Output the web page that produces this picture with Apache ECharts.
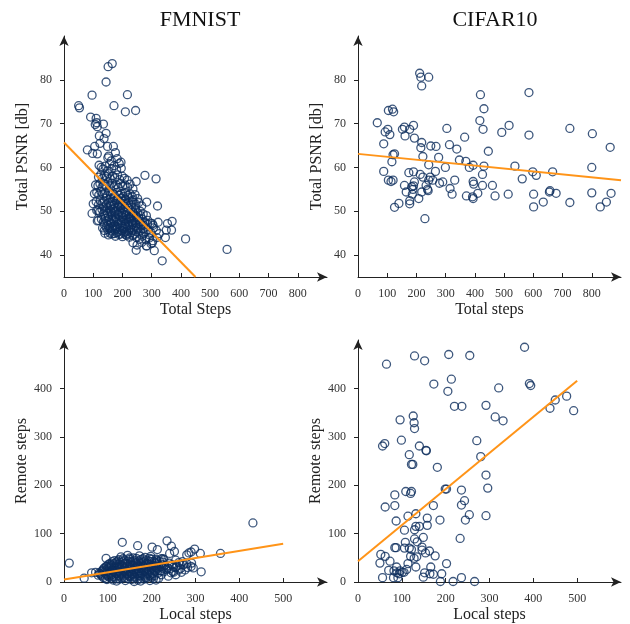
<!DOCTYPE html>
<html>
<head>
<meta charset="utf-8">
<script src="https://cdn.jsdelivr.net/npm/echarts@6/dist/echarts.min.js"></script>
<style>
  html, body { margin: 0; padding: 0; background: #fff; }
  #chart { width: 630px; height: 624px; }
</style>
</head>
<body>
<div id="chart"></div>
<script>
// panel titles and axis names
const titles = ['FMNIST', 'CIFAR10']
const xNames = ['Total Steps', 'Total steps', 'Local steps', 'Local steps']
const yNames = ['Total PSNR [db]', 'Total PSNR [db]', 'Remote steps', 'Remote steps']

// tick labels
const totalStepTicks = [0, 100, 200, 300, 400, 500, 600, 700, 800]
const psnrTicks = [40, 50, 60, 70, 80]
const localStepTicks = [0, 100, 200, 300, 400, 500]
const remoteStepTicks = [0, 100, 200, 300, 400]

// FMNIST: total steps vs total PSNR
const fmnistPsnr = [
  [50, 74.1], [53, 73.6], [96, 76.5], [144, 79.5], [151, 83.0], [165, 83.7], [217, 76.6], [171, 74.1],
  [210, 72.7], [245, 73.0], [91, 71.5], [110, 71.2], [112, 70.2], [107, 69.8], [114, 69.3], [135, 69.9],
  [144, 67.8], [121, 67.2], [80, 64.0], [105, 64.8], [98, 63.2], [114, 63.1], [123, 65.5], [137, 66.6],
  [149, 64.8], [169, 64.8], [153, 62.6], [176, 63.4], [277, 58.2], [315, 57.4], [247, 56.8], [283, 52.1],
  [320, 51.2], [96, 49.5], [117, 50.1], [114, 47.8], [416, 43.7], [558, 41.3], [247, 41.1], [309, 41.0],
  [336, 38.7], [370, 47.7], [368, 45.7], [350, 45.7], [354, 47.2], [347, 44.0], [322, 47.5], [302, 47.2],
  [283, 42.1], [302, 42.8],
  [150, 62.2], [162, 61.5], [182, 62.0], [195, 61.2],
  [120, 60.5], [127, 60.0], [133, 59.6], [141, 60.3], [148, 59.2], [156, 60.8], [163, 59.7], [172, 60.4],
  [180, 59.5], [189, 60.9], [196, 59.8],
  [118, 57.8], [126, 58.4], [131, 57.5], [139, 58.2], [146, 57.9], [152, 58.6], [158, 57.4], [166, 58.1],
  [174, 57.6], [183, 58.3], [191, 57.2], [199, 58.0], [207, 57.5], [216, 57.1],
  [108, 56.0], [116, 55.8], [123, 56.3], [130, 55.5], [137, 56.2], [144, 55.7], [150, 56.5], [157, 55.9],
  [164, 56.4], [171, 55.6], [178, 56.1], [186, 55.4], [193, 56.3], [201, 55.8], [209, 56.0], [218, 55.5],
  [226, 56.2], [236, 55.1],
  [104, 54.0], [112, 54.3], [119, 53.7], [126, 54.5], [133, 53.9], [140, 54.2], [147, 53.6], [154, 54.4],
  [160, 53.8], [167, 54.1], [174, 53.5], [181, 54.3], [188, 53.7], [195, 54.0], [203, 53.4], [210, 54.2],
  [218, 53.6], [226, 54.0], [234, 53.3], [243, 53.8], [252, 52.9],
  [145, 53.0], [158, 52.8], [170, 53.1], [183, 52.7], [196, 53.0], [209, 52.8], [222, 53.1], [235, 52.6],
  [100, 51.7], [110, 52.2], [118, 51.5], [124, 52.4], [131, 51.8], [138, 52.3], [145, 51.6], [152, 52.0],
  [158, 51.4], [165, 52.2], [172, 51.7], [179, 52.4], [186, 51.5], [193, 52.1], [200, 51.8], [207, 52.3],
  [214, 51.6], [221, 52.0], [229, 51.4], [237, 52.1], [246, 51.6], [256, 52.0], [266, 51.2],
  [135, 51.0], [148, 50.8], [160, 51.1], [172, 50.7], [184, 51.0], [196, 50.8], [208, 51.1], [220, 50.7],
  [232, 51.0], [245, 50.8],
  [112, 50.2], [122, 49.8], [130, 50.4], [136, 49.6], [143, 50.1], [149, 49.5], [155, 50.3], [161, 49.8],
  [167, 50.5], [173, 49.7], [179, 50.2], [185, 49.4], [191, 50.0], [197, 49.6], [203, 50.4], [209, 49.8],
  [215, 50.2], [222, 49.5], [229, 50.1], [236, 49.7], [244, 50.3], [252, 49.6], [261, 50.0], [271, 49.4],
  [282, 49.0],
  [140, 49.0], [152, 48.8], [164, 49.1], [176, 48.7], [188, 49.0], [200, 48.8], [212, 49.1], [224, 48.7],
  [236, 49.0], [248, 48.8], [262, 49.0],
  [118, 47.9], [128, 48.2], [135, 47.6], [141, 48.4], [147, 47.8], [153, 48.1], [159, 47.5], [165, 48.3],
  [171, 47.7], [177, 48.2], [183, 47.6], [189, 48.0], [195, 47.4], [201, 48.3], [207, 47.8], [213, 48.1],
  [219, 47.5], [225, 48.2], [231, 47.7], [238, 48.0], [245, 47.4], [252, 48.1], [260, 47.6], [268, 48.2],
  [277, 47.5], [287, 47.9], [296, 47.3], [305, 46.8],
  [138, 47.0], [150, 46.8], [162, 47.1], [174, 46.7], [186, 47.0], [198, 46.8], [210, 47.1], [222, 46.7],
  [234, 47.0], [246, 46.8], [258, 47.1], [272, 46.8], [286, 47.0],
  [132, 46.2], [138, 45.6], [144, 46.4], [150, 45.8], [156, 46.1], [162, 45.5], [168, 46.3], [174, 45.7],
  [180, 46.0], [186, 45.4], [192, 46.2], [198, 45.6], [204, 46.1], [210, 45.3], [216, 46.0], [222, 45.5],
  [228, 46.2], [234, 45.7], [240, 46.0], [247, 45.4], [254, 46.1], [262, 45.6], [270, 46.0], [278, 45.3],
  [287, 45.8], [296, 45.2], [306, 46.2], [316, 45.6], [326, 44.9],
  [158, 45.0], [170, 44.9], [182, 45.1], [194, 44.8], [206, 45.0], [218, 44.9], [230, 45.1], [242, 44.8],
  [256, 45.0], [272, 44.9], [290, 44.7],
  [140, 45.0], [152, 44.6], [164, 44.8], [176, 44.3], [188, 44.7], [200, 44.2], [212, 44.6], [224, 44.1],
  [236, 44.5], [248, 44.0], [258, 43.6], [268, 44.3], [280, 43.5], [292, 43.9], [304, 43.3], [318, 44.0],
  [236, 42.8], [250, 42.3], [266, 42.9], [282, 42.1], [298, 42.6],
  [175, 50.0], [190, 51.3], [205, 49.2], [220, 48.4], [235, 47.4], [180, 46.5], [195, 47.8], [210, 46.5],
  [225, 47.0], [240, 49.4], [165, 46.0], [250, 46.3], [185, 52.7], [170, 48.0], [200, 45.5], [215, 44.5],
  [230, 48.5], [160, 50.0], [255, 48.5], [265, 47.0]
]

// CIFAR10: total steps vs total PSNR
const cifarPsnr = [
  [66, 70.2], [88, 65.4], [88, 59.1], [93, 68.1], [102, 68.7], [104, 73.0], [109, 67.5], [104, 57.1],
  [113, 56.8], [118, 73.3], [122, 72.7], [116, 61.3], [120, 62.9], [125, 63.1], [120, 57.1], [125, 50.9],
  [140, 51.8], [152, 68.7], [159, 69.2], [161, 67.2], [159, 55.9], [165, 54.4], [177, 68.7], [190, 69.6],
  [193, 66.7], [174, 58.8], [190, 59.0], [184, 55.6], [190, 55.8], [188, 55.0], [177, 52.4], [177, 51.7],
  [186, 53.9], [193, 56.7], [211, 81.5], [215, 80.6], [218, 78.6], [242, 80.6], [218, 65.7], [215, 64.5],
  [222, 62.5], [213, 58.4], [218, 54.4], [222, 57.8], [208, 52.9], [229, 48.3], [233, 55.9], [242, 60.6],
  [249, 64.9], [242, 57.1], [247, 57.8], [240, 54.7], [238, 55.0], [256, 57.1], [265, 59.1], [267, 64.8],
  [276, 62.3], [279, 56.4], [290, 56.7], [304, 68.9], [299, 60.0], [313, 65.2], [315, 55.2], [322, 53.9],
  [331, 57.1], [338, 64.2], [347, 61.7], [365, 66.9], [369, 61.4], [371, 53.5], [381, 60.0], [394, 60.5],
  [392, 53.3], [394, 52.9], [394, 56.8], [396, 56.2], [410, 54.1], [419, 76.6], [417, 70.7], [431, 73.4],
  [428, 68.7], [431, 60.3], [426, 58.4], [426, 55.9], [446, 63.7], [460, 55.9], [469, 53.5], [492, 68.0],
  [517, 69.6], [514, 53.9], [537, 60.3], [562, 57.4], [585, 77.1], [585, 67.4], [598, 59.0], [610, 58.2],
  [601, 53.9], [601, 51.0], [634, 52.1], [655, 54.4], [657, 54.7], [666, 59.0], [678, 54.1], [725, 68.9],
  [725, 52.0], [802, 67.7], [800, 60.0], [800, 54.2], [829, 51.0], [850, 52.1], [863, 64.6], [866, 54.1]
]

// FMNIST: local steps vs remote steps
const fmnistRemote = [
  [12, 39], [46, 8], [63, 19], [96, 49], [133, 82], [168, 75], [201, 72], [213, 67], [235, 85], [245, 74],
  [241, 59], [252, 63], [226, 48], [285, 60], [290, 62], [298, 68], [280, 56], [311, 59], [291, 39],
  [313, 21], [357, 59], [431, 122],
  [130, 52], [145, 55], [158, 50], [172, 54], [185, 51], [198, 53], [222, 48],
  [115, 44], [125, 46], [138, 45], [150, 47], [162, 44], [175, 46], [188, 45], [200, 47], [212, 44],
  [228, 46], [255, 45], [270, 42],
  [105, 38], [118, 40], [128, 41], [140, 39], [152, 42], [164, 40], [176, 41], [188, 39], [200, 42],
  [212, 40], [225, 41], [240, 39], [262, 40], [280, 38],
  [98, 33], [108, 35], [120, 36], [132, 34], [144, 37], [156, 35], [168, 36], [180, 34], [192, 37],
  [204, 35], [216, 36], [230, 34], [246, 36], [258, 33], [272, 35], [290, 32],
  [92, 29], [102, 31], [114, 30], [126, 32], [138, 29], [150, 31], [162, 30], [174, 32], [186, 29],
  [198, 31], [210, 30], [222, 32], [236, 29], [250, 31], [266, 28], [282, 30],
  [88, 24], [98, 26], [110, 25], [122, 27], [134, 24], [146, 26], [158, 25], [170, 27], [182, 24],
  [194, 26], [206, 25], [220, 23], [234, 26], [248, 22], [262, 25],
  [80, 19], [92, 21], [104, 20], [116, 22], [128, 19], [140, 21], [152, 20], [164, 22], [176, 19],
  [188, 21], [200, 20], [214, 18], [228, 21], [244, 19],
  [85, 14], [96, 16], [108, 15], [120, 17], [132, 14], [144, 16], [156, 15], [168, 17], [180, 14],
  [192, 16], [206, 13], [222, 15], [238, 12],
  [90, 9], [102, 11], [114, 10], [126, 12], [138, 9], [150, 11], [162, 10], [174, 12], [186, 9],
  [200, 10], [216, 8],
  [98, 5], [112, 4], [126, 6], [140, 3], [154, 5], [168, 4], [182, 6], [196, 3],
  [72, 20], [78, 14], [120, 2], [160, 1], [175, 2], [210, 4], [240, 27], [255, 15], [268, 20], [276, 25],
  [295, 29], [255, 30], [265, 36], [250, 20],
  [135, 48], [150, 50], [165, 49], [180, 48], [195, 49], [210, 47],
  [110, 42], [122, 43], [134, 42], [146, 43], [158, 42], [170, 43], [182, 42], [194, 43], [206, 42], [218, 43],
  [102, 37], [114, 38], [126, 37], [138, 38], [150, 37], [162, 38], [174, 37], [186, 38], [198, 37], [210, 38],
  [222, 37],
  [96, 32], [108, 33], [120, 32], [132, 33], [144, 32], [156, 33], [168, 32], [180, 33], [192, 32], [204, 33],
  [216, 32], [228, 33],
  [90, 27], [104, 28], [116, 27], [128, 28], [140, 27], [152, 28], [164, 27], [176, 28], [188, 27], [200, 28],
  [212, 27], [226, 28],
  [86, 22], [100, 23], [112, 22], [124, 23], [136, 22], [148, 23], [160, 22], [172, 23], [184, 22], [196, 23],
  [208, 22], [222, 23],
  [82, 17], [94, 18], [106, 17], [118, 18], [130, 17], [142, 18], [154, 17], [166, 18], [178, 17], [190, 18],
  [202, 17],
  [88, 12], [100, 13], [112, 12], [124, 13], [136, 12], [148, 13], [160, 12], [172, 13], [184, 12], [196, 13],
  [95, 7], [108, 8], [120, 7], [132, 8], [146, 7], [160, 8], [174, 7], [188, 8], [204, 7]
]

// CIFAR10: local steps vs remote steps
const cifarRemote = [
  [65, 450], [129, 467], [152, 457], [207, 470], [255, 468], [380, 485], [173, 409], [213, 419],
  [205, 394], [220, 363], [237, 363], [292, 365], [321, 401], [391, 410], [394, 406], [313, 341],
  [331, 333], [438, 359], [450, 376], [476, 384], [492, 354], [96, 335], [126, 343], [128, 329],
  [129, 317], [56, 281], [61, 286], [99, 293], [140, 281], [155, 272], [156, 271], [117, 263],
  [122, 243], [125, 243], [181, 237], [271, 292], [280, 259], [292, 221], [296, 194], [199, 192],
  [202, 192], [236, 190], [109, 187], [122, 187], [120, 183], [84, 180], [84, 158], [62, 155],
  [172, 158], [236, 159], [243, 168], [114, 136], [132, 141], [158, 132], [87, 126], [187, 128],
  [245, 128], [254, 139], [292, 137], [129, 108], [106, 107], [132, 115], [140, 115], [158, 117],
  [149, 92], [129, 89], [135, 83], [233, 90], [108, 82], [84, 71], [87, 71], [106, 70],
  [117, 70], [122, 67], [146, 72], [146, 66], [163, 64], [154, 60], [176, 54], [52, 57],
  [62, 53], [73, 43], [50, 39], [120, 53], [128, 49], [134, 52], [114, 38], [132, 31],
  [88, 31], [70, 24], [82, 23], [96, 23], [101, 20], [105, 20], [111, 26], [89, 19],
  [94, 17], [81, 9], [56, 9], [91, 9], [166, 31], [164, 17], [152, 19], [172, 16],
  [191, 17], [202, 38], [149, 10], [188, 1], [217, 1], [236, 9], [266, 1]
]

// fitted trend lines (end points)
const fmnistPsnrFit = [[0, 65.7], [450, 35]]
const cifarPsnrFit = [[0, 63.1], [900, 57.1]]
const fmnistRemoteFit = [[0, 5], [500, 79]]
const cifarRemoteFit = [[0, 43], [500, 416]]

const navy = '#0d2d5c'
const orange = '#ff9418'
const axisColor = '#222'
const font = 'Liberation Serif'

const grids = [
  { left: 64, top: 36, width: 263, height: 241 },
  { left: 358, top: 36, width: 263, height: 241 },
  { left: 64, top: 340, width: 263, height: 242 },
  { left: 358, top: 340, width: 263, height: 242 }
]

const xRanges = [[0, 900], [0, 900], [0, 600], [0, 600]]
const yRanges = [[35, 90], [35, 90], [0, 500], [0, 500]]
const xTicks = [totalStepTicks, totalStepTicks, localStepTicks, localStepTicks]
const yTicks = [psnrTicks, psnrTicks, remoteStepTicks, remoteStepTicks]

const axisLine = {
  show: true,
  symbol: ['none', 'arrow'],
  symbolSize: [7, 10],
  lineStyle: { color: axisColor, width: 1 }
}

const xAxis = grids.map((g, i) => ({
  type: 'value',
  gridIndex: i,
  min: xRanges[i][0],
  max: xRanges[i][1],
  name: xNames[i],
  nameLocation: 'middle',
  nameGap: 25,
  nameTextStyle: { fontFamily: font, fontSize: 16, color: '#222' },
  axisLine,
  axisTick: { show: true, inside: true, length: 4, customValues: xTicks[i], lineStyle: { color: axisColor } },
  axisLabel: { customValues: xTicks[i], fontFamily: font, fontSize: 12, color: '#333', margin: 11 },
  splitLine: { show: false }
}))

const yAxis = grids.map((g, i) => ({
  type: 'value',
  gridIndex: i,
  min: yRanges[i][0],
  max: yRanges[i][1],
  name: yNames[i],
  nameLocation: 'middle',
  nameGap: 33,
  nameTextStyle: { fontFamily: font, fontSize: 16, color: '#222' },
  axisLine,
  axisTick: { show: true, inside: false, length: 4, customValues: yTicks[i], lineStyle: { color: axisColor } },
  axisLabel: { customValues: yTicks[i], fontFamily: font, fontSize: 12, color: '#333', margin: 12 },
  splitLine: { show: false }
}))

const scatter = (data, i) => ({
  type: 'scatter',
  xAxisIndex: i,
  yAxisIndex: i,
  data,
  symbol: 'circle',
  symbolSize: 8,
  silent: true,
  itemStyle: { color: 'rgba(0,0,0,0)', borderColor: navy, borderWidth: 1.3 }
})

const fitLine = (data, i) => ({
  type: 'line',
  xAxisIndex: i,
  yAxisIndex: i,
  data,
  showSymbol: false,
  silent: true,
  clip: true,
  z: 5,
  lineStyle: { color: orange, width: 2 }
})

const chart = echarts.init(document.getElementById('chart'))
chart.setOption({
  animation: false,
  backgroundColor: '#fff',
  title: [
    { text: titles[0], left: 195, top: 4, textAlign: 'center', textStyle: { fontFamily: font, fontSize: 22, fontWeight: 'normal', color: '#111' } },
    { text: titles[1], left: 490, top: 4, textAlign: 'center', textStyle: { fontFamily: font, fontSize: 22, fontWeight: 'normal', color: '#111' } }
  ],
  grid: grids,
  xAxis,
  yAxis,
  series: [
    scatter(fmnistPsnr, 0),
    scatter(cifarPsnr, 1),
    scatter(fmnistRemote, 2),
    scatter(cifarRemote, 3),
    fitLine(fmnistPsnrFit, 0),
    fitLine(cifarPsnrFit, 1),
    fitLine(fmnistRemoteFit, 2),
    fitLine(cifarRemoteFit, 3)
  ]
})
</script>
</body>
</html>
